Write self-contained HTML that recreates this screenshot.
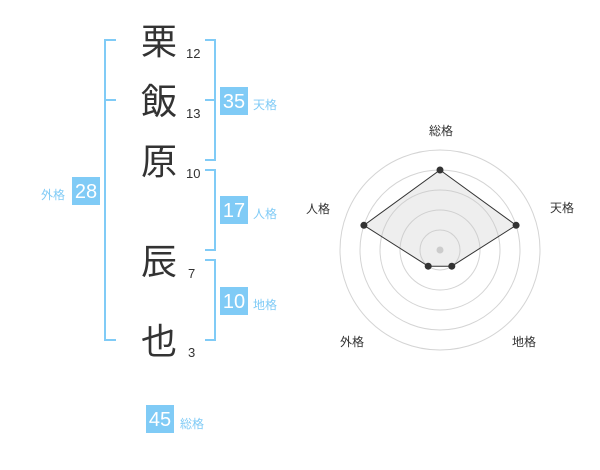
<!DOCTYPE html>
<html>
<head>
<meta charset="utf-8">
<style>
html,body{margin:0;padding:0;background:#fff;}
svg{display:block;}
.k{font-family:"Liberation Sans","Noto Sans CJK JP",sans-serif;font-size:36px;fill:#333;}
.n{font-family:"Liberation Sans",sans-serif;font-size:13px;fill:#333;}
.b{font-family:"Liberation Sans",sans-serif;font-size:20px;fill:#fff;text-anchor:middle;}
.l{font-family:"Liberation Sans","Noto Sans CJK JP",sans-serif;font-size:12px;fill:#80cbf6;}
.r{font-family:"Liberation Sans","Noto Sans CJK JP",sans-serif;font-size:12px;fill:#333;text-anchor:middle;}
</style>
</head>
<body>
<svg width="600" height="470" viewBox="0 0 600 470" xmlns="http://www.w3.org/2000/svg">
  <!-- kanji -->
  <text class="k" x="159" y="54" text-anchor="middle">栗</text>
  <text class="k" x="159" y="114" text-anchor="middle">飯</text>
  <text class="k" x="159" y="174" text-anchor="middle">原</text>
  <text class="k" x="159" y="274" text-anchor="middle">辰</text>
  <text class="k" x="159" y="354" text-anchor="middle">也</text>
  <!-- stroke numbers -->
  <text class="n" x="186" y="58">12</text>
  <text class="n" x="186" y="118">13</text>
  <text class="n" x="186" y="178">10</text>
  <text class="n" x="188" y="278">7</text>
  <text class="n" x="188" y="357">3</text>

  <!-- brackets -->
  <g fill="none" stroke="#80cbf6" stroke-width="2">
    <path d="M116 40 H105 V340 H116"/>
    <path d="M105 100 H116"/>
    <path d="M205 40 H215 V160 H205"/>
    <path d="M205 100 H215"/>
    <path d="M205 170 H215 V250 H205"/>
    <path d="M205 260 H215 V340 H205"/>
  </g>

  <!-- boxes -->
  <g fill="#80cbf6">
    <rect x="220" y="87" width="28" height="28"/>
    <rect x="220" y="196" width="28" height="28"/>
    <rect x="220" y="287" width="28" height="28"/>
    <rect x="72" y="177" width="28" height="28"/>
    <rect x="146" y="405" width="28" height="28"/>
  </g>
  <text class="b" x="234" y="108">35</text>
  <text class="b" x="234" y="217">17</text>
  <text class="b" x="234" y="308">10</text>
  <text class="b" x="86" y="198">28</text>
  <text class="b" x="160" y="426">45</text>

  <text class="l" x="253" y="109">天格</text>
  <text class="l" x="253" y="218">人格</text>
  <text class="l" x="253" y="309">地格</text>
  <text class="l" x="41" y="199">外格</text>
  <text class="l" x="180" y="428">総格</text>

  <!-- radar -->
  <g fill="none" stroke="#d4d4d4" stroke-width="1">
    <circle cx="440" cy="250" r="20"/>
    <circle cx="440" cy="250" r="40"/>
    <circle cx="440" cy="250" r="60"/>
    <circle cx="440" cy="250" r="80"/>
    <circle cx="440" cy="250" r="100"/>
  </g>
  <polygon points="440,170 516.1,225.3 451.8,266.2 428.2,266.2 363.9,225.3" fill="rgba(200,200,200,0.3)" stroke="#333" stroke-width="1"/>
  <circle cx="440" cy="250" r="3.5" fill="#ccc"/>
  <g fill="#333">
    <circle cx="440" cy="170" r="3.5"/>
    <circle cx="516.1" cy="225.3" r="3.5"/>
    <circle cx="451.8" cy="266.2" r="3.5"/>
    <circle cx="428.2" cy="266.2" r="3.5"/>
    <circle cx="363.9" cy="225.3" r="3.5"/>
  </g>
  <text class="r" x="441" y="135">総格</text>
  <text class="r" x="562" y="212">天格</text>
  <text class="r" x="318" y="213">人格</text>
  <text class="r" x="352" y="346">外格</text>
  <text class="r" x="524" y="346">地格</text>
</svg>
</body>
</html>
